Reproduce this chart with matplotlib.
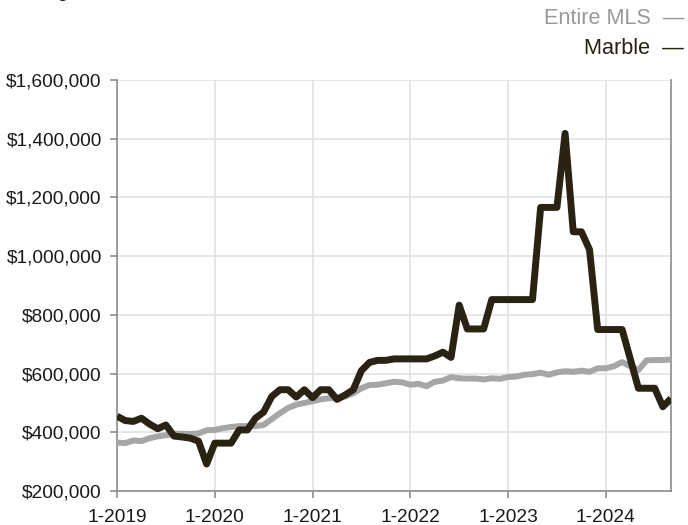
import matplotlib
matplotlib.use("Agg")
import matplotlib.pyplot as plt
import numpy as np

# ---------------- DATA ----------------
# monthly, 1-2019 .. 9-2024
months = np.arange(69)
year_ticks = [0, 12, 24, 36, 48, 60]
year_labels = ["1-2019", "1-2020", "1-2021", "1-2022", "1-2023", "1-2024"]

marble = [455, 440, 437, 448, 428, 412, 425, 387, 384, 380, 370, 292,
          363, 363, 363, 408, 408, 448, 469, 522, 545, 545, 520, 545,
          518, 545, 545, 512, 527, 545, 610, 638, 645, 645, 650, 650,
          650, 650, 650, 660, 673, 655, 833, 752, 752, 752, 852, 852,
          852, 852, 852, 852, 1166, 1166, 1166, 1418, 1083, 1083, 1022, 750,
          750, 750, 750, 650, 550, 550, 550, 487, 515]

entire_mls = [365, 363, 372, 370, 380, 386, 390, 395, 395, 394, 396, 407,
              408, 414, 418, 421, 421, 421, 425, 445, 465, 483, 494, 500,
              506, 512, 516, 518, 522, 533, 550, 561, 562, 567, 572, 570,
              562, 565, 557, 572, 576, 588, 584, 583, 583, 580, 584, 582,
              588, 590, 596, 598, 603, 596, 604, 608, 606, 610, 606, 618,
              618, 625, 639, 625, 612, 645, 646, 646, 648]

y_ticks = [200, 400, 600, 800, 1000, 1200, 1400, 1600]

marble_color = "#2a2213"
mls_color = "#a6a6a6"

# ---------------- FIGURE ----------------
plt.rcParams["font.family"] = ["Liberation Sans", "DejaVu Sans"]

fig = plt.figure(figsize=(6.88, 5.25), dpi=100)
ax = fig.add_axes([117 / 688, 34 / 525, 554 / 688, 411 / 525])

ax.plot(months, np.array(entire_mls) * 1000, color=mls_color, lw=4.3,
        solid_joinstyle="round", solid_capstyle="butt", zorder=3)
ax.plot(months, np.array(marble) * 1000, color=marble_color, lw=5.0,
        solid_joinstyle="round", solid_capstyle="butt", zorder=4)

ax.set_xlim(0, 68)
ax.set_ylim(200000, 1600000)
ax.set_xticks(year_ticks)
ax.set_xticklabels(year_labels)
ax.set_yticks([v * 1000 for v in y_ticks])
ax.set_yticklabels(["${:,}".format(v * 1000) for v in y_ticks])

ax.grid(True, color="#e2e2e2", lw=1.2, zorder=0)
ax.set_axisbelow(True)
for side in ("left", "bottom", "right"):
    ax.spines[side].set_color("#8c8c8c")
    ax.spines[side].set_linewidth(1.2)
ax.spines["top"].set_visible(False)
ax.tick_params(axis="both", colors="#8c8c8c", length=5, width=1.2,
               labelsize=13.8, labelcolor="#1a1a1a")
ax.tick_params(axis="x", pad=8)
ax.tick_params(axis="y", pad=6)

# subtitle sits above the figure edge, only its descenders show
fig.text(10 / 688, 1 + 3 / 525, "Rolling 12-Month Calculation", fontsize=13.8,
         color="#1a1a1a", ha="left", va="baseline")

# legend as text
fig.text(684 / 688, 1 - 18 / 525, "Entire MLS  \u2014", fontsize=15.6,
         color="#999999", ha="right", va="center")
fig.text(684 / 688, 1 - 48 / 525, "Marble  \u2014", fontsize=15.6,
         color=marble_color, ha="right", va="center")

fig.savefig("out.png", dpi=100)
